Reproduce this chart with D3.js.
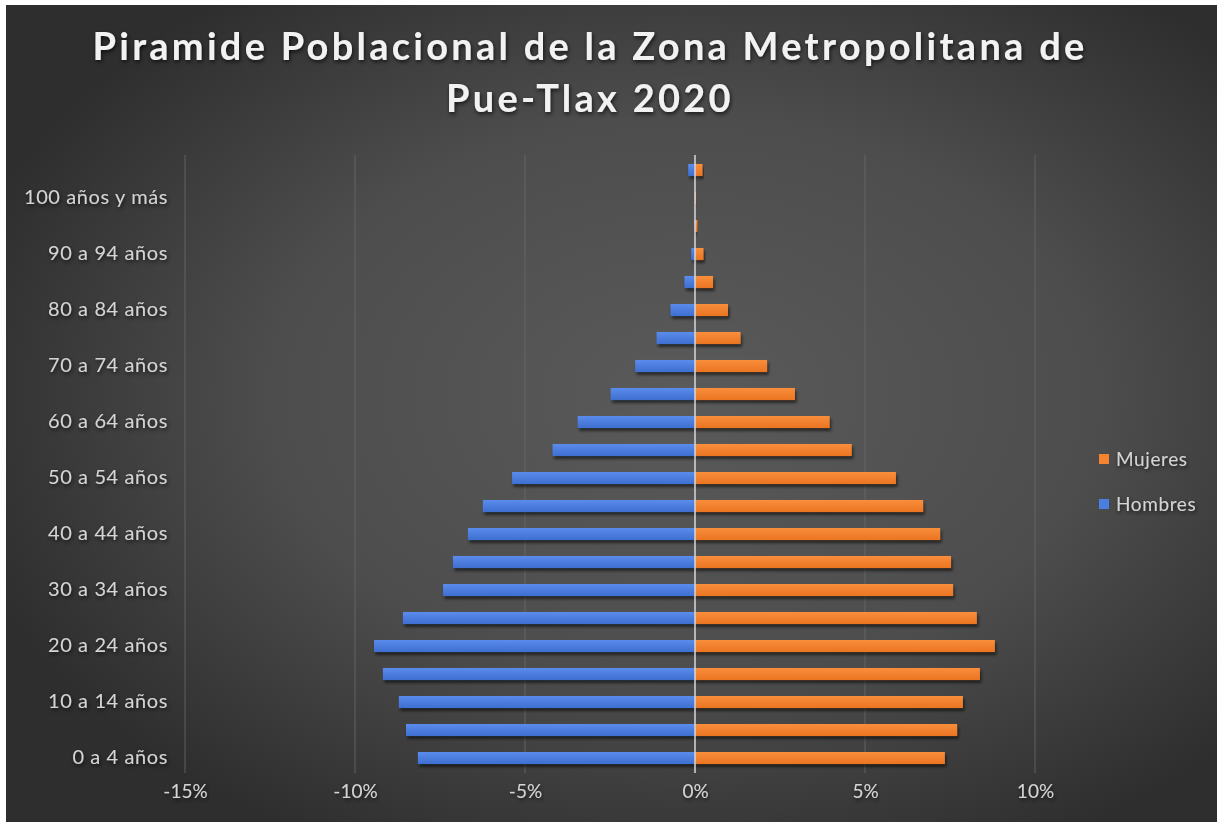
<!DOCTYPE html>
<html>
<head>
<meta charset="utf-8">
<script src="https://cdn.jsdelivr.net/npm/d3@7"></script>
<style>
  html, body { margin: 0; padding: 0; background: #ffffff; }
  svg { display: block; }
</style>
</head>
<body>
<svg id="chart" width="1217" height="822"></svg>
<script>
// ---- data ----
const categories = [
  "0 a 4 años", "5 a 9 años", "10 a 14 años", "15 a 19 años", "20 a 24 años",
  "25 a 29 años", "30 a 34 años", "35 a 39 años", "40 a 44 años", "45 a 49 años",
  "50 a 54 años", "55 a 59 años", "60 a 64 años", "65 a 69 años", "70 a 74 años",
  "75 a 79 años", "80 a 84 años", "85 a 89 años", "90 a 94 años", "95 a 99 años",
  "100 años y más", "No especificado"
];
// percent of total population (Hombres drawn to the left)
const hombres = [8.15, 8.5, 8.71, 9.18, 9.44, 8.59, 7.41, 7.12, 6.68, 6.24,
                 5.38, 4.19, 3.45, 2.48, 1.76, 1.13, 0.72, 0.31, 0.11, 0.03,
                 0.01, 0.2];
const mujeres = [7.35, 7.71, 7.88, 8.38, 8.82, 8.29, 7.59, 7.53, 7.21, 6.71,
                 5.91, 4.61, 3.96, 2.94, 2.12, 1.34, 0.97, 0.53, 0.25, 0.07,
                 0.03, 0.22];
const xTicks = [-15, -10, -5, 0, 5, 10];
const seriesNames = ["Mujeres", "Hombres"];
const titleLines = ["Piramide Poblacional de la Zona Metropolitana de", "Pue-Tlax 2020"];

// ---- setup ----
const svg = d3.select("#chart");
const W = 1217, H = 822;
const defs = svg.append("defs");

const bg = defs.append("radialGradient").attr("id", "bg")
  .attr("cx", "56%").attr("cy", "48%").attr("r", "62%");
bg.append("stop").attr("offset", "0%").attr("stop-color", "#5a5a5a");
bg.append("stop").attr("offset", "55%").attr("stop-color", "#4d4d4d");
bg.append("stop").attr("offset", "100%").attr("stop-color", "#2e2e2e");

const gBlue = defs.append("linearGradient").attr("id", "gBlue")
  .attr("x1", 0).attr("y1", 0).attr("x2", 0).attr("y2", 1);
gBlue.append("stop").attr("offset", "0%").attr("stop-color", "#5a8cec");
gBlue.append("stop").attr("offset", "100%").attr("stop-color", "#3e6fd0");
const gOr = defs.append("linearGradient").attr("id", "gOr")
  .attr("x1", 0).attr("y1", 0).attr("x2", 0).attr("y2", 1);
gOr.append("stop").attr("offset", "0%").attr("stop-color", "#f98e3b");
gOr.append("stop").attr("offset", "100%").attr("stop-color", "#ea7523");

const sh = defs.append("filter").attr("id", "sh")
  .attr("x", "-10%").attr("y", "-60%").attr("width", "130%").attr("height", "260%");
sh.append("feDropShadow").attr("dx", 1.5).attr("dy", 3).attr("stdDeviation", 1.8)
  .attr("flood-color", "#000").attr("flood-opacity", 0.55);
const tsh = defs.append("filter").attr("id", "tsh")
  .attr("x", "-5%").attr("y", "-30%").attr("width", "110%").attr("height", "160%");
tsh.append("feDropShadow").attr("dx", 1).attr("dy", 2).attr("stdDeviation", 2)
  .attr("flood-color", "#000").attr("flood-opacity", 0.7);

svg.append("rect").attr("x", 6).attr("y", 5).attr("width", W - 6).attr("height", H - 5)
  .attr("fill", "url(#bg)");

// ---- scales ----
const x = d3.scaleLinear().domain([-15, 10]).range([185, 1035]);
const y = d3.scaleBand().domain(categories).range([772, 156])
  .paddingInner(0.57).paddingOuter(0.285);

const plotTop = 155, plotBottom = 773;

// gridlines
svg.append("g").selectAll("line").data(xTicks.filter(t => t !== 0)).join("line")
  .attr("x1", d => x(d)).attr("x2", d => x(d))
  .attr("y1", plotTop).attr("y2", plotBottom)
  .attr("stroke", "#6a6a6a").attr("stroke-width", 1).attr("opacity", 0.8);

// bars
const rows = categories.map((c, i) => ({ c, h: hombres[i], m: mujeres[i] }));
const bars = svg.append("g");
bars.selectAll("rect.h").data(rows).join("rect").attr("class", "h")
  .attr("x", d => x(-d.h)).attr("width", d => x(0) - x(-d.h))
  .attr("y", d => y(d.c)).attr("height", y.bandwidth())
  .attr("fill", "url(#gBlue)").attr("filter", "url(#sh)");
bars.selectAll("rect.m").data(rows).join("rect").attr("class", "m")
  .attr("x", x(0)).attr("width", d => x(d.m) - x(0))
  .attr("y", d => y(d.c)).attr("height", y.bandwidth())
  .attr("fill", "url(#gOr)").attr("filter", "url(#sh)");

// zero axis line
svg.append("line").attr("x1", x(0)).attr("x2", x(0))
  .attr("y1", plotTop).attr("y2", plotBottom)
  .attr("stroke", "#d9d9d9").attr("stroke-width", 1.5);

const labelFont = "Lato, 'Open Sans', sans-serif";

// y-axis labels (every other category)
const yAxis = d3.axisLeft(y)
  .tickValues(categories.filter((c, i) => i % 2 === 0))
  .tickSize(0).tickPadding(0);
const gy = svg.append("g").attr("transform", "translate(168,0)").call(yAxis);
gy.select(".domain").remove();
gy.selectAll("text").attr("fill", "#d4d4d4").attr("font-size", 20)
  .attr("letter-spacing", 0.6)
  .attr("font-family", labelFont).attr("filter", "url(#tsh)");

// x-axis labels
const xAxis = d3.axisBottom(x).tickValues(xTicks)
  .tickFormat(d => d + "%").tickSize(0).tickPadding(0);
const gx = svg.append("g").attr("transform", "translate(0,790)").call(xAxis);
gx.select(".domain").remove();
gx.selectAll("text").attr("fill", "#d4d4d4").attr("font-size", 19)
  .attr("font-family", labelFont).attr("dy", "0.4em").attr("filter", "url(#tsh)");

// legend
const legendColors = { "Mujeres": "#f5842f", "Hombres": "#4a7fe0" };
const lg = svg.append("g");
seriesNames.forEach((s, i) => {
  const cy = 459 + i * 45;
  lg.append("rect").attr("x", 1099).attr("y", cy - 5).attr("width", 10).attr("height", 10)
    .attr("fill", legendColors[s]);
  lg.append("text").attr("x", 1116).attr("y", cy).attr("dy", "0.35em")
    .attr("fill", "#d4d4d4").attr("font-size", 19).attr("letter-spacing", 0.6)
    .attr("font-family", labelFont)
    .attr("filter", "url(#tsh)").text(s);
});

// title
const tg = svg.append("g");
const titleNodes = titleLines.map((t, i) =>
  tg.append("text").attr("x", 590).attr("y", 60 + i * 52)
    .attr("text-anchor", "middle").attr("fill", "#f2f2f2")
    .attr("font-size", 38).attr("font-weight", "bold")
    .attr("font-family", labelFont)
    .attr("filter", "url(#tsh)").text(t));
// spread the first title line to the reference width (~995px)
const baseW = titleNodes[0].node().getComputedTextLength();
const ls = Math.max(0, (995 - baseW) / titleLines[0].length);
titleNodes.forEach(n => n.attr("letter-spacing", ls));
</script>
</body>
</html>
